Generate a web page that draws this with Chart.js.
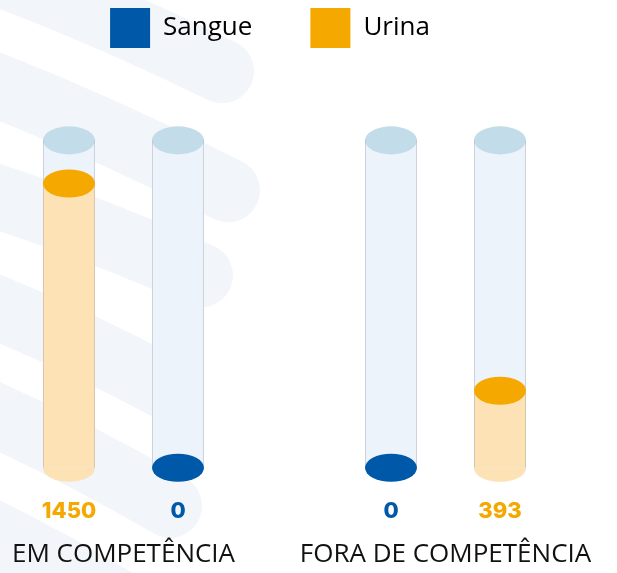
<!DOCTYPE html>
<html><head><meta charset="utf-8">
<script src="https://cdn.jsdelivr.net/npm/chart.js@4.4.1/dist/chart.umd.min.js"></script>
<style>html,body{margin:0;padding:0;background:#fff;}</style>
</head><body>
<canvas id="c" width="617" height="573"></canvas>
<script>
// ---- data ----
const categories = ['EM COMPETÊNCIA', 'FORA DE COMPETÊNCIA'];
const seriesNames = ['Sangue', 'Urina'];
const sangue = [0, 0];
const urina = [1450, 393];
// which series sits left / right inside each group
const groupOrder = [['Urina', 'Sangue'], ['Sangue', 'Urina']];
const yMax = 2090;          // scale maximum
const tubeCapacity = 1670;  // value at the rim of the tubes

// ---- styles ----
const seriesValues = { Sangue: sangue, Urina: urina };
const strong = { Sangue: '#0059a8', Urina: '#f5a800' };
const light = { Sangue: '#a9c7e6', Urina: '#fce2b4' };

const datasets = [0, 1].map(slot => ({
  label: 'slot' + slot,
  data: categories.map((c, i) => seriesValues[groupOrder[i][slot]][i]),
  seriesOf: categories.map((c, i) => groupOrder[i][slot]),
  backgroundColor: categories.map((c, i) => light[groupOrder[i][slot]]),
  borderWidth: 0,
  categoryPercentage: 0.677,
  barPercentage: 0.477,
  clip: false
}));

// decorative background stripes (not data)
const watermark = {
  id: 'watermark',
  beforeDraw(chart) {
    const ctx = chart.ctx;
    ctx.save();
    ctx.strokeStyle = '#f2f5f9';
    ctx.lineWidth = 64;
    ctx.lineCap = 'round';
    // [y at left edge, slope, end x]
    const bands = [[-22, 0.42, 222], [90, 0.44, 228], [201, 0.37, 201], [313, 0.45, 166], [421, 0.5, 170], [540, 0.55, 170]];
    bands.forEach(([y0, s, xe]) => {
      const xs = -60, ys = y0 + s * xs;
      const ye = y0 + s * xe;
      const mx = (xs + xe) / 2, my = (ys + ye) / 2 - 10;
      ctx.beginPath();
      ctx.moveTo(xs, ys);
      ctx.quadraticCurveTo(mx, my, xe, ye);
      ctx.stroke();
    });
    ctx.restore();
  }
};

function ellipse(ctx, x, y, rx, ry, color) {
  ctx.beginPath();
  ctx.ellipse(x, y, rx, ry, 0, 0, Math.PI * 2);
  ctx.fillStyle = color;
  ctx.fill();
}

const cylinders = {
  id: 'cylinders',
  beforeDatasetsDraw(chart) {
    const ctx = chart.ctx;
    const top = chart.scales.y.getPixelForValue(tubeCapacity);
    chart.data.datasets.forEach((ds, di) => {
      chart.getDatasetMeta(di).data.forEach(el => {
        const { x, width, base } = el.getProps(['x', 'width', 'base'], true);
        const rx = width / 2, ry = width * 0.27;
        ctx.save();
        ctx.beginPath();
        ctx.moveTo(x - rx, top);
        ctx.lineTo(x - rx, base);
        ctx.ellipse(x, base, rx, ry, 0, Math.PI, 0, true);
        ctx.lineTo(x + rx, top);
        ctx.closePath();
        ctx.fillStyle = '#edf3fa';
        ctx.fill();
        ellipse(ctx, x, top, rx, ry, '#c3dcea');
        ctx.restore();
      });
    });
  },
  afterDatasetsDraw(chart) {
    const ctx = chart.ctx;
    const top = chart.scales.y.getPixelForValue(tubeCapacity);
    chart.data.datasets.forEach((ds, di) => {
      chart.getDatasetMeta(di).data.forEach((el, i) => {
        const { x, y, width, base } = el.getProps(['x', 'y', 'width', 'base'], true);
        const rx = width / 2, ry = width * 0.27;
        const s = ds.seriesOf[i];
        const v = ds.data[i];
        ctx.save();
        ctx.strokeStyle = 'rgba(140,150,160,0.35)';
        ctx.lineWidth = 1;
        ctx.beginPath();
        ctx.moveTo(x - rx + 0.5, top); ctx.lineTo(x - rx + 0.5, base);
        ctx.moveTo(x + rx - 0.5, top); ctx.lineTo(x + rx - 0.5, base);
        ctx.stroke();
        if (v > 0) {
          ctx.beginPath();
          ctx.moveTo(x - rx, base);
          ctx.ellipse(x, base, rx, ry, 0, Math.PI, 0, true);
          ctx.closePath();
          ctx.fillStyle = light[s];
          ctx.fill();
        }
        ellipse(ctx, x, y, rx, ry, strong[s]);
        ctx.fillStyle = strong[s];
        ctx.font = '800 22px Inter';
        ctx.textAlign = 'center';
        ctx.textBaseline = 'middle';
        ctx.fillText(String(v), x, base + 44);
        ctx.restore();
      });
    });
  }
};

new Chart(document.getElementById('c'), {
  type: 'bar',
  data: { labels: categories, datasets },
  options: {
    responsive: false,
    animation: false,
    layout: { padding: { top: -50, left: 0, right: 77, bottom: -68 } },
    plugins: {
      tooltip: { enabled: false },
      legend: {
        position: 'top',
        align: 'center',
        onClick: () => {},
        labels: {
          boxWidth: 40,
          boxHeight: 40,
          padding: 58,
          color: '#111',
          font: { family: 'Open Sans', size: 26 },
          generateLabels: () => seriesNames.map(n => ({
            text: n, fillStyle: strong[n], strokeStyle: strong[n], lineWidth: 0, hidden: false
          }))
        }
      }
    },
    scales: {
      x: {
        offset: false,
        grid: { display: false, drawTicks: false },
        border: { display: false },
        ticks: {
          color: '#111',
          font: { family: 'Open Sans', size: 26 },
          padding: 71,
          maxRotation: 0, minRotation: 0, autoSkip: false
        },
        afterFit(s) { s.paddingLeft = 123.5; s.paddingRight = 171.5; }
      },
      y: { display: false, min: 0, max: yMax }
    }
  },
  plugins: [watermark, cylinders]
});
</script>
</body></html>
